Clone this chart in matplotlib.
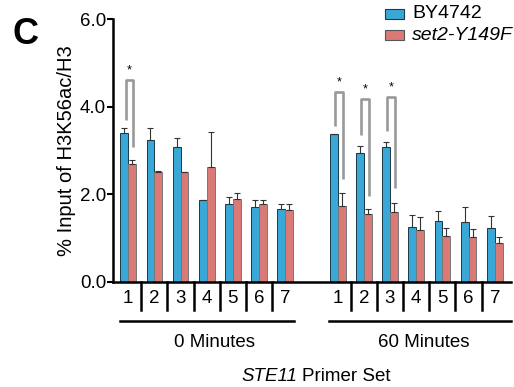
import matplotlib
matplotlib.use("Agg")
import matplotlib.pyplot as plt
from matplotlib.patches import Rectangle
import numpy as np

plt.rcParams["font.family"] = ["Liberation Sans", "DejaVu Sans"]

# primer sets, two time points
primers = ["1", "2", "3", "4", "5", "6", "7"]
groups = ["0 Minutes", "60 Minutes"]
series = ["BY4742", "set2-Y149F"]

wt_0 = [3.40, 3.23, 3.07, 1.86, 1.78, 1.71, 1.67]
wt_0_err = [0.12, 0.28, 0.22, 0.01, 0.16, 0.15, 0.10]
mut_0 = [2.69, 2.50, 2.51, 2.63, 1.90, 1.78, 1.65]
mut_0_err = [0.10, 0.04, 0.01, 0.79, 0.13, 0.08, 0.12]

wt_60 = [3.37, 2.95, 3.07, 1.25, 1.39, 1.36, 1.24]
wt_60_err = [0.01, 0.15, 0.13, 0.28, 0.22, 0.36, 0.26]
mut_60 = [1.74, 1.55, 1.59, 1.19, 1.06, 1.02, 0.88]
mut_60_err = [0.29, 0.11, 0.22, 0.30, 0.18, 0.20, 0.15]

# significance brackets: (group, primer index, left leg bottom, right leg bottom, top)
sig_brackets = [(0, 0, 3.70, 3.07, 4.61), (1, 0, 3.57, 2.34, 4.33),
                (1, 1, 3.36, 1.96, 4.18), (1, 2, 3.45, 2.15, 4.22)]

blue = "#3aa8d6"
red = "#d97a76"

W, H = 514, 387
fig = plt.figure(figsize=(W / 100, H / 100), dpi=100)
ax = fig.add_axes([113 / W, (H - 282) / H, 398 / W, 263 / H])

offsets = [0, 8]
pos = np.concatenate([np.arange(7) + o for o in offsets])
wt = wt_0 + wt_60
wt_err = wt_0_err + wt_60_err
mut = mut_0 + mut_60
mut_err = mut_0_err + mut_60_err
w = 0.3

ax.bar(pos - w / 2, wt, w, color=blue, edgecolor="#1a3a4a", linewidth=0.7)
ax.bar(pos + w / 2, mut, w, color=red, edgecolor="#777777", linewidth=0.7)
ax.errorbar(pos - w / 2, wt, yerr=[np.zeros(14), wt_err], fmt="none",
            ecolor="#333333", elinewidth=0.8, capsize=2.5, capthick=0.8)
ax.errorbar(pos + w / 2, mut, yerr=[np.zeros(14), mut_err], fmt="none",
            ecolor="#333333", elinewidth=0.8, capsize=2.5, capthick=0.8)

for g, i, lo_l, lo_r, top in sig_brackets:
    xc = offsets[g] + i
    xl = xc - w / 2 + 0.05
    xr = xc + w / 2 + 0.05
    ax.plot([xl, xl, xr, xr], [lo_l, top, top, lo_r], color="#999999", lw=1.9,
            solid_joinstyle="round", solid_capstyle="butt")
    ax.text((xl + xr) / 2, top + 0.08, "*", ha="center", va="bottom", fontsize=9)

ax.set_xlim(-0.58, 14.62)
ax.set_ylim(0, 6)
ax.set_yticks([0, 2, 4, 6])
ax.set_yticklabels(["0.0", "2.0", "4.0", "6.0"], fontsize=13.5)
ax.tick_params(axis="y", direction="out", length=4, width=1.5, pad=1)
ax.set_xticks([])
for s in ["top", "right"]:
    ax.spines[s].set_visible(False)
ax.spines["left"].set_linewidth(1.8)
ax.spines["bottom"].set_linewidth(1.8)
ax.set_ylabel("% Input of H3K56ac/H3", fontsize=14.5, labelpad=3)

# primer numbers with separators
blend = matplotlib.transforms.blended_transform_factory(ax.transData, fig.transFigure)
for o in offsets:
    for k, p in enumerate(primers):
        ax.text(o + k, (H - 303) / H, p, transform=blend, ha="center",
                va="baseline", fontsize=13.5)
    for k in range(6):
        xs = o + k + 0.5
        ax.plot([xs, xs], [(H - 282) / H, (H - 310) / H], transform=blend,
                color="black", lw=1.8, clip_on=False)

# group underlines and labels
spans = [(-0.3, 6.32), (7.66, 14.62)]
centers = [3.31, 11.29]
for (x0, x1), xc, label in zip(spans, centers, groups):
    ax.plot([x0, x1], [(H - 321) / H] * 2, transform=blend,
            color="black", lw=1.8, clip_on=False)
    ax.text(xc, (H - 347) / H, label, transform=blend, ha="center",
            va="baseline", fontsize=13.5)

fig.text(297 / W, (H - 381) / H, "STE11", ha="right", va="baseline",
         fontsize=13.5, fontstyle="italic")
fig.text(302 / W, (H - 381) / H, "Primer Set", ha="left", va="baseline",
         fontsize=13.5)
fig.text(12 / W, (H - 34) / H, "C", fontsize=26, fontweight="bold",
         ha="left", va="center")

# legend drawn by hand
for k, (lab, col, ec) in enumerate(zip(series, [blue, red], ["#1a3a4a", "#555555"])):
    ytop = 9 + 21 * k
    fig.patches.append(Rectangle((385 / W, (H - ytop - 10) / H), 19 / W, 10 / H,
                                 facecolor=col, edgecolor=ec, linewidth=0.8,
                                 transform=fig.transFigure))
    fig.text(412 / W, (H - ytop - 5) / H, lab, ha="left", va="center",
             fontsize=14, fontstyle="italic" if k == 1 else "normal")

fig.savefig("out.png", dpi=100)
